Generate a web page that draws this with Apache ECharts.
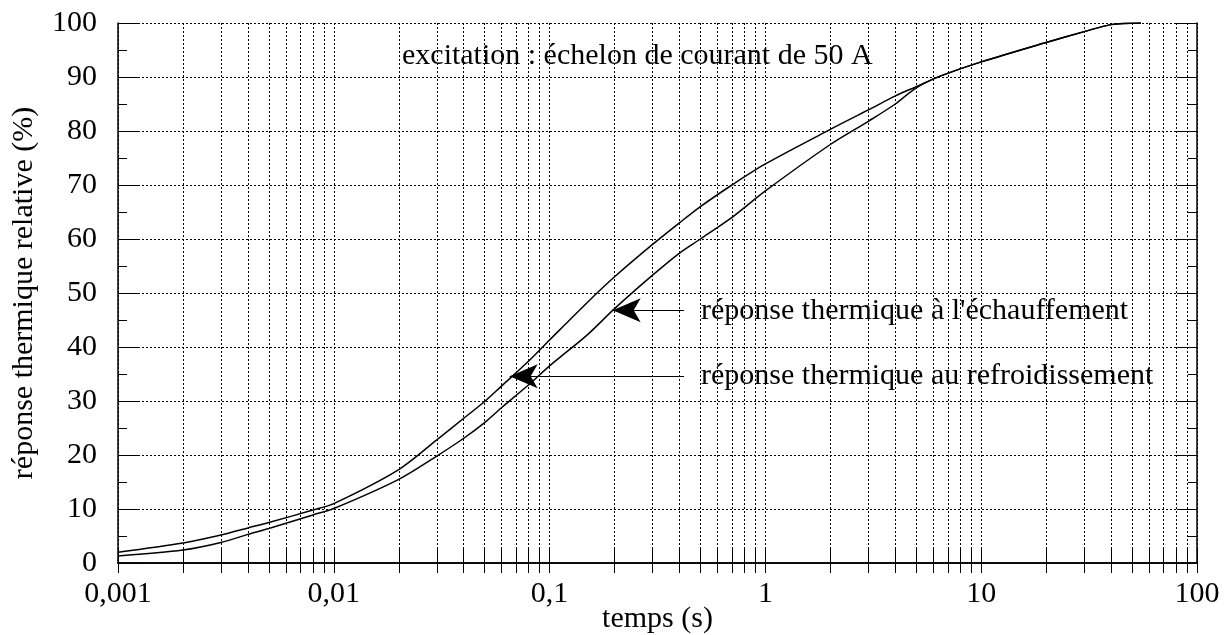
<!DOCTYPE html>
<html>
<head>
<meta charset="utf-8">
<script src="https://cdn.jsdelivr.net/npm/echarts@6/dist/echarts.min.js"></script>
<style>
  html, body { margin: 0; background: #fff; }
  #chart { width: 1230px; height: 635px; }
</style>
</head>
<body>
<div id="chart"></div>
<script>
// temps (s) et réponses relatives (%)
var temps = [0.001, 0.002, 0.003, 0.004, 0.005, 0.008, 0.01, 0.02, 0.03, 0.04, 0.05, 0.06, 0.08, 0.1,
  0.15, 0.2, 0.3, 0.4, 0.5, 0.7, 1, 2, 3, 4, 5, 6.5, 10, 20, 30, 40, 55];
var refroidissement = [2.0, 3.7, 5.2, 6.5, 7.5, 9.8, 11.0, 17.3, 22.8, 26.8, 29.9, 32.8, 37.4, 41.3,
  48.3, 53.0, 59.0, 63.0, 66.0, 70.0, 73.9, 80.3, 83.9, 86.5, 88.2, 90.2, 92.8, 96.4, 98.4, 99.7, 100];
var echauffement = [1.3, 2.4, 3.8, 5.3, 6.4, 8.9, 10.1, 15.5, 19.8, 23.1, 26.0, 28.8, 33.0, 36.5,
  42.3, 47.1, 53.3, 57.4, 60.0, 64.0, 68.9, 77.5, 81.8, 85.0, 88.0, 90.2, 92.8, 96.4, 98.4, 99.7, 100];
var xTickLabels = ["0,001", "0,01", "0,1", "1", "10", "100"];

// flèches : [départ, pointe] en coordonnées des données
var flecheEchauffement = [[0.42, 46.8], [0.196, 46.8]];
var flecheRefroidissement = [[0.42, 34.6], [0.0653, 34.6]];

var police = "'Liberation Serif', 'DejaVu Serif', serif";

function pairs(xs, ys) {
  var out = [];
  for (var i = 0; i < xs.length; i++) out.push([xs[i], ys[i]]);
  return out;
}

var dotted = { color: "#000", width: 1, type: [2, 2] };

var chart = echarts.init(document.getElementById("chart"));
var option = {
  animation: false,
  backgroundColor: "#fff",
  grid: { left: 118, top: 23, right: 33, bottom: 72, outerBoundsMode: "none", containLabel: false },
  xAxis: [
    {
      type: "log",
      logBase: 10,
      min: 0.001,
      max: 100,
      name: "temps (s)",
      nameLocation: "middle",
      nameGap: 41,
      nameMoveOverlap: false,
      nameTextStyle: { fontFamily: police, fontSize: 30, color: "#000" },
      axisLine: { lineStyle: { color: "#000", width: 1.5 } },
      axisTick: { inside: true, length: 14, lineStyle: { color: "#000" } },
      minorTick: { show: true, splitNumber: 9, length: 14, lineStyle: { color: "#000" } },
      splitLine: { show: true, lineStyle: dotted },
      minorSplitLine: { show: true, lineStyle: dotted },
      axisLabel: {
        margin: 16,
        fontFamily: police,
        fontSize: 30,
        color: "#000",
        formatter: function (v) {
          return xTickLabels[Math.round(Math.log10(v)) + 3];
        }
      }
    },
    {
      type: "log",
      logBase: 10,
      min: 0.001,
      max: 100,
      position: "top",
      axisLine: { lineStyle: { color: "#000", width: 1.5 } },
      axisTick: { inside: true, length: 10, lineStyle: { color: "#000" } },
      minorTick: { show: true, splitNumber: 9, length: 10, lineStyle: { color: "#000" } },
      splitLine: { show: false },
      axisLabel: { show: false }
    }
  ],
  yAxis: [
    {
      type: "value",
      min: 0,
      max: 100,
      interval: 10,
      name: "réponse thermique relative (%)",
      nameLocation: "middle",
      nameGap: 79,
      nameMoveOverlap: false,
      nameTextStyle: { fontFamily: police, fontSize: 30, color: "#000" },
      axisLine: { show: true, lineStyle: { color: "#000", width: 1.5 } },
      axisTick: { show: true, inside: true, length: 20, lineStyle: { color: "#000" } },
      minorTick: { show: true, splitNumber: 2, length: 9, lineStyle: { color: "#000" } },
      splitLine: { show: true, lineStyle: dotted },
      axisLabel: { margin: 21, fontFamily: police, fontSize: 30, color: "#000" }
    },
    {
      type: "value",
      min: 0,
      max: 100,
      interval: 10,
      position: "right",
      axisLine: { show: true, lineStyle: { color: "#000", width: 1.5 } },
      axisTick: { show: true, inside: true, length: 20, lineStyle: { color: "#000" } },
      minorTick: { show: true, splitNumber: 2, length: 9, lineStyle: { color: "#000" } },
      splitLine: { show: false },
      axisLabel: { show: false }
    }
  ],
  graphic: [
    {
      type: "text", x: 402, y: 56,
      style: { text: "excitation : échelon de courant de 50 A", font: "30px " + police, fill: "#000", verticalAlign: "middle" }
    },
    {
      type: "text", x: 701, y: 311,
      style: { text: "réponse thermique à l'échauffement", font: "30px " + police, fill: "#000", verticalAlign: "middle" }
    },
    {
      type: "text", x: 701, y: 376,
      style: { text: "réponse thermique au refroidissement", font: "30px " + police, fill: "#000", verticalAlign: "middle" }
    }
  ],
  series: [
    {
      name: "refroidissement",
      type: "line",
      data: pairs(temps, refroidissement),
      smooth: 0.3,
      symbol: "none",
      lineStyle: { color: "#000", width: 1.5 },
      markLine: {
        silent: true,
        symbol: ["none", "arrow"],
        symbolSize: [18, 28],
        lineStyle: { color: "#000", width: 1, type: "solid" },
        label: { show: false },
        data: [[{ coord: flecheRefroidissement[0] }, { coord: flecheRefroidissement[1] }]]
      }
    },
    {
      name: "échauffement",
      type: "line",
      data: pairs(temps, echauffement),
      smooth: 0.3,
      symbol: "none",
      lineStyle: { color: "#000", width: 1.5 },
      markLine: {
        silent: true,
        symbol: ["none", "arrow"],
        symbolSize: [18, 28],
        lineStyle: { color: "#000", width: 1, type: "solid" },
        label: { show: false },
        data: [[{ coord: flecheEchauffement[0] }, { coord: flecheEchauffement[1] }]]
      }
    }
  ]
};
chart.setOption(option);
</script>
</body>
</html>
